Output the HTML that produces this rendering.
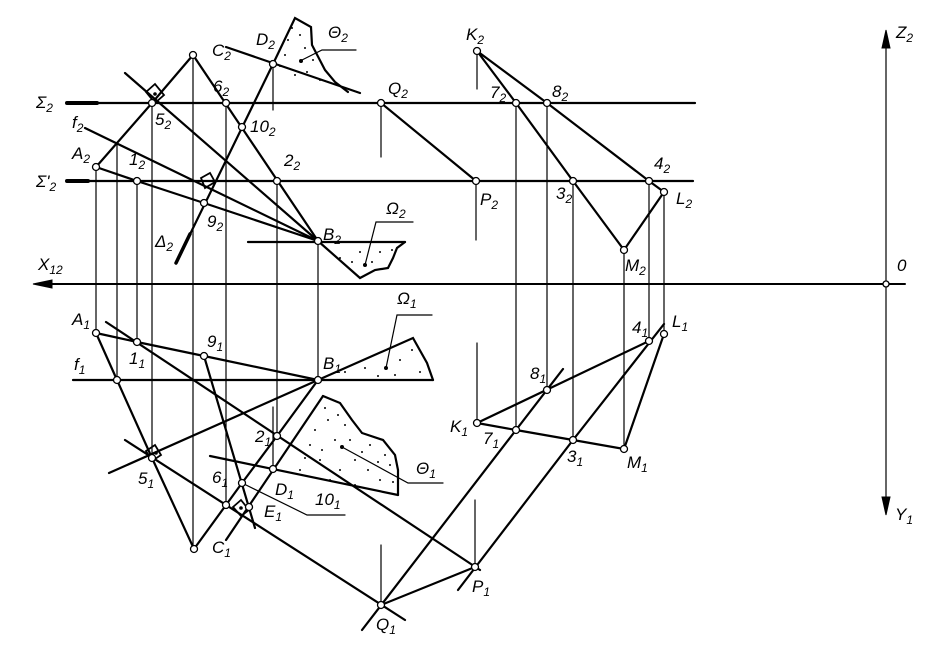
<!DOCTYPE html>
<html><head><meta charset="utf-8"><style>
html,body{margin:0;padding:0;background:#fff;}
svg{display:block}
text{font-family:"Liberation Sans",sans-serif;font-style:italic;font-size:17px;fill:#000}
tspan.s{font-size:12px}
</style></head><body>
<svg width="928" height="650" viewBox="0 0 928 650" xmlns="http://www.w3.org/2000/svg">
<g stroke="#000" fill="none" stroke-linecap="round">
<g stroke-width="1.2">
<line x1="886" y1="40" x2="886" y2="505"/>
<line x1="96" y1="167" x2="96" y2="333"/>
<line x1="117" y1="143" x2="117" y2="380"/>
<line x1="137" y1="181" x2="137" y2="342"/>
<line x1="152" y1="103" x2="152" y2="458"/>
<line x1="193" y1="55" x2="193" y2="549"/>
<line x1="226" y1="103" x2="226" y2="505"/>
<line x1="277" y1="181" x2="277" y2="436"/>
<line x1="318" y1="241" x2="318" y2="380"/>
<line x1="273" y1="64" x2="273" y2="110"/>
<line x1="273" y1="407" x2="273" y2="469"/>
<line x1="381" y1="103" x2="381" y2="157"/>
<line x1="476" y1="181" x2="476" y2="240"/>
<line x1="477" y1="51" x2="477" y2="89"/>
<line x1="477" y1="343" x2="477" y2="423"/>
<line x1="475" y1="500" x2="475" y2="567"/>
<line x1="381" y1="545" x2="381" y2="605"/>
<line x1="516" y1="103" x2="516" y2="430"/>
<line x1="547" y1="103" x2="547" y2="390"/>
<line x1="573" y1="181" x2="573" y2="440"/>
<line x1="624" y1="250" x2="624" y2="449"/>
<line x1="649" y1="181" x2="649" y2="341"/>
<line x1="664" y1="192" x2="664" y2="334"/>
<polyline points="300,61 322,50 356,50"/>
<polyline points="365,265 376,222 413,222"/>
<polyline points="386,368 397,315 432,315"/>
<polyline points="342,447 408,483 443,483"/>
<polyline points="242,483 307,515 345,515"/>
</g>
<line x1="40" y1="284" x2="905" y2="284" stroke-width="2"/>
<polygon points="33,284 52,280 52,288" fill="#000"/>
<polygon points="886,30 882,48 890,48" fill="#000"/>
<polygon points="886,515 882,497 890,497" fill="#000"/>
<g stroke-width="2.2">
<line x1="67" y1="103" x2="695" y2="103"/>
<line x1="67" y1="181" x2="693" y2="181"/>
<line x1="67" y1="103" x2="97" y2="103" stroke-width="4"/>
<line x1="67" y1="181" x2="88" y2="181" stroke-width="4"/>
<polyline points="96,167 152,103 193,55 318,241"/>
<line x1="125" y1="73" x2="318" y2="241"/>
<line x1="85" y1="128" x2="318" y2="241"/>
<polyline points="96,167 137,181 204,203 318,241"/>
<line x1="176" y1="263" x2="273" y2="64"/>
<line x1="176" y1="263" x2="190" y2="234" stroke-width="3.5"/>
<line x1="226" y1="47" x2="360" y2="93"/>
<polyline points="273,64 295,18 311,27 312,45 325,70 335,82 348,92"/>
<line x1="248" y1="242" x2="405" y2="242"/>
<polyline points="318,241 360,278 375,270 388,268 393,258 397,248 405,242"/>
<line x1="381" y1="103" x2="476" y2="181"/>
<polyline points="477,51 516,103 573,181 624,250 664,192 649,181 547,103 477,51"/>
<polygon points="146,92 155,84 164,95 155,103" stroke-width="1.8"/>
<polygon points="201,178 210,173 215,182 205,188" stroke-width="1.8"/>
<polyline points="96,333 137,342 204,356 318,380"/>
<polyline points="96,333 117,380 152,458 194,549 242,483 277,436 318,380"/>
<line x1="73" y1="380" x2="433" y2="380"/>
<polyline points="318,380 413,338 427,363 433,380"/>
<line x1="106" y1="322" x2="480" y2="570"/>
<line x1="109" y1="473" x2="318" y2="380"/>
<line x1="125" y1="440" x2="405" y2="620"/>
<line x1="204" y1="356" x2="255" y2="528"/>
<line x1="226" y1="540" x2="323" y2="396"/>
<polyline points="323,396 340,403 352,420 362,433 383,440 395,455 398,470 398,495"/>
<line x1="210" y1="456" x2="398" y2="495"/>
<line x1="362" y1="630" x2="516" y2="430"/>
<line x1="516" y1="430" x2="563" y2="369"/>
<line x1="458" y1="590" x2="573" y2="440"/>
<line x1="573" y1="440" x2="664" y2="324"/>
<line x1="381" y1="605" x2="475" y2="567"/>
<polyline points="477,423 516,430 573,440 624,449 664,334"/>
<line x1="477" y1="423" x2="649" y2="341"/>
<polygon points="146,451 155,445 161,455 152,461" stroke-width="1.8"/>
<polygon points="233,507 241,500 249,510 241,516" stroke-width="1.8"/>
</g>
</g>
<g fill="#000">
<circle cx="155" cy="94" r="1.8"/><circle cx="156" cy="453" r="1.8"/><circle cx="241" cy="508" r="1.8"/>
<circle cx="301" cy="61" r="2"/><circle cx="365" cy="265" r="2"/><circle cx="386" cy="368" r="2"/><circle cx="342" cy="447" r="2"/>
<circle cx="288" cy="40" r="1"/><circle cx="300" cy="35" r="1"/><circle cx="285" cy="55" r="1"/><circle cx="307" cy="72" r="1"/><circle cx="320" cy="80" r="1"/><circle cx="295" cy="75" r="1"/><circle cx="313" cy="60" r="1"/><circle cx="292" cy="28" r="1"/><circle cx="305" cy="48" r="1"/><circle cx="280" cy="66" r="1"/>
<circle cx="340" cy="258" r="1"/><circle cx="352" cy="262" r="1"/><circle cx="380" cy="252" r="1"/><circle cx="372" cy="262" r="1"/><circle cx="392" cy="250" r="1"/><circle cx="360" cy="252" r="1"/>
<circle cx="345" cy="372" r="1"/><circle cx="365" cy="368" r="1"/><circle cx="378" cy="376" r="1"/><circle cx="400" cy="360" r="1"/><circle cx="412" cy="350" r="1"/><circle cx="420" cy="372" r="1"/><circle cx="395" cy="375" r="1"/>
<circle cx="328" cy="420" r="1"/><circle cx="335" cy="440" r="1"/><circle cx="320" cy="460" r="1"/><circle cx="345" cy="425" r="1"/><circle cx="355" cy="460" r="1"/><circle cx="368" cy="470" r="1"/><circle cx="380" cy="480" r="1"/><circle cx="390" cy="465" r="1"/><circle cx="370" cy="445" r="1"/><circle cx="310" cy="445" r="1"/><circle cx="300" cy="470" r="1"/><circle cx="355" cy="485" r="1"/><circle cx="330" cy="480" r="1"/><circle cx="385" cy="455" r="1"/>
<circle cx="325" cy="408" r="1"/><circle cx="338" cy="415" r="1"/><circle cx="315" cy="430" r="1"/><circle cx="350" cy="440" r="1"/><circle cx="362" cy="452" r="1"/><circle cx="378" cy="462" r="1"/><circle cx="393" cy="482" r="1"/><circle cx="340" cy="470" r="1"/><circle cx="305" cy="458" r="1"/><circle cx="322" cy="450" r="1"/>
</g>
<g fill="#fff" stroke="#000" stroke-width="1.3">
<circle cx="193" cy="55" r="3.5"/><circle cx="152" cy="103" r="3.5"/><circle cx="96" cy="167" r="3.5"/><circle cx="137" cy="181" r="3.5"/><circle cx="226" cy="103" r="3.5"/><circle cx="242" cy="127" r="3.5"/><circle cx="277" cy="181" r="3.5"/><circle cx="318" cy="241" r="3.5"/><circle cx="204" cy="203" r="3.5"/><circle cx="273" cy="64" r="3.5"/><circle cx="381" cy="103" r="3.5"/><circle cx="476" cy="181" r="3.5"/>
<circle cx="477" cy="51" r="3.5"/><circle cx="516" cy="103" r="3.5"/><circle cx="547" cy="103" r="3.5"/><circle cx="573" cy="181" r="3.5"/><circle cx="649" cy="181" r="3.5"/><circle cx="664" cy="192" r="3.5"/><circle cx="624" cy="250" r="3.5"/>
<circle cx="96" cy="333" r="3.5"/><circle cx="137" cy="342" r="3.5"/><circle cx="204" cy="356" r="3.5"/><circle cx="318" cy="380" r="3.5"/><circle cx="117" cy="380" r="3.5"/><circle cx="152" cy="458" r="3.5"/><circle cx="194" cy="549" r="3.5"/><circle cx="226" cy="505" r="3.5"/><circle cx="242" cy="483" r="3.5"/><circle cx="277" cy="436" r="3.5"/><circle cx="273" cy="469" r="3.5"/><circle cx="249" cy="507" r="3.5"/>
<circle cx="381" cy="605" r="3.5"/><circle cx="475" cy="567" r="3.5"/><circle cx="477" cy="423" r="3.5"/><circle cx="516" cy="430" r="3.5"/><circle cx="547" cy="390" r="3.5"/><circle cx="573" cy="440" r="3.5"/><circle cx="624" cy="449" r="3.5"/><circle cx="649" cy="341" r="3.5"/><circle cx="664" cy="334" r="3.5"/>
<circle cx="886" cy="284" r="3"/>
</g>
<g>
<text x="896" y="38">Z<tspan class="s" dy="4">2</tspan></text>
<text x="895" y="520">Y<tspan class="s" dy="4">1</tspan></text>
<text x="897" y="271">0</text>
<text x="38" y="270">X<tspan class="s" dy="4">12</tspan></text>
<text x="36" y="108">Σ<tspan class="s" dy="4">2</tspan></text>
<text x="36" y="187">Σ'<tspan class="s" dy="4">2</tspan></text>
<text x="72" y="128">f<tspan class="s" dy="4">2</tspan></text>
<text x="72" y="159">A<tspan class="s" dy="4">2</tspan></text>
<text x="129" y="165">1<tspan class="s" dy="4">2</tspan></text>
<text x="155" y="125">5<tspan class="s" dy="4">2</tspan></text>
<text x="213" y="92">6<tspan class="s" dy="4">2</tspan></text>
<text x="250" y="132">10<tspan class="s" dy="4">2</tspan></text>
<text x="284" y="166">2<tspan class="s" dy="4">2</tspan></text>
<text x="207" y="227">9<tspan class="s" dy="4">2</tspan></text>
<text x="155" y="247">Δ<tspan class="s" dy="4">2</tspan></text>
<text x="212" y="56">C<tspan class="s" dy="4">2</tspan></text>
<text x="256" y="45">D<tspan class="s" dy="4">2</tspan></text>
<text x="328" y="38">Θ<tspan class="s" dy="4">2</tspan></text>
<text x="388" y="94">Q<tspan class="s" dy="4">2</tspan></text>
<text x="323" y="240">B<tspan class="s" dy="4">2</tspan></text>
<text x="386" y="214">Ω<tspan class="s" dy="4">2</tspan></text>
<text x="480" y="205">P<tspan class="s" dy="4">2</tspan></text>
<text x="466" y="40">K<tspan class="s" dy="4">2</tspan></text>
<text x="490" y="98">7<tspan class="s" dy="4">2</tspan></text>
<text x="552" y="97">8<tspan class="s" dy="4">2</tspan></text>
<text x="556" y="199">3<tspan class="s" dy="4">2</tspan></text>
<text x="654" y="169">4<tspan class="s" dy="4">2</tspan></text>
<text x="676" y="204">L<tspan class="s" dy="4">2</tspan></text>
<text x="625" y="271">M<tspan class="s" dy="4">2</tspan></text>
<text x="72" y="325">A<tspan class="s" dy="4">1</tspan></text>
<text x="74" y="370">f<tspan class="s" dy="4">1</tspan></text>
<text x="129" y="364">1<tspan class="s" dy="4">1</tspan></text>
<text x="207" y="347">9<tspan class="s" dy="4">1</tspan></text>
<text x="323" y="369">B<tspan class="s" dy="4">1</tspan></text>
<text x="397" y="304">Ω<tspan class="s" dy="4">1</tspan></text>
<text x="255" y="442">2<tspan class="s" dy="4">1</tspan></text>
<text x="138" y="484">5<tspan class="s" dy="4">1</tspan></text>
<text x="212" y="483">6<tspan class="s" dy="4">1</tspan></text>
<text x="275" y="495">D<tspan class="s" dy="4">1</tspan></text>
<text x="315" y="505">10<tspan class="s" dy="4">1</tspan></text>
<text x="264" y="517">E<tspan class="s" dy="4">1</tspan></text>
<text x="212" y="553">C<tspan class="s" dy="4">1</tspan></text>
<text x="416" y="474">Θ<tspan class="s" dy="4">1</tspan></text>
<text x="450" y="432">K<tspan class="s" dy="4">1</tspan></text>
<text x="483" y="444">7<tspan class="s" dy="4">1</tspan></text>
<text x="530" y="379">8<tspan class="s" dy="4">1</tspan></text>
<text x="567" y="462">3<tspan class="s" dy="4">1</tspan></text>
<text x="627" y="468">M<tspan class="s" dy="4">1</tspan></text>
<text x="632" y="333">4<tspan class="s" dy="4">1</tspan></text>
<text x="672" y="327">L<tspan class="s" dy="4">1</tspan></text>
<text x="472" y="592">P<tspan class="s" dy="4">1</tspan></text>
<text x="376" y="630">Q<tspan class="s" dy="4">1</tspan></text>
</g>
</svg>
</body></html>
